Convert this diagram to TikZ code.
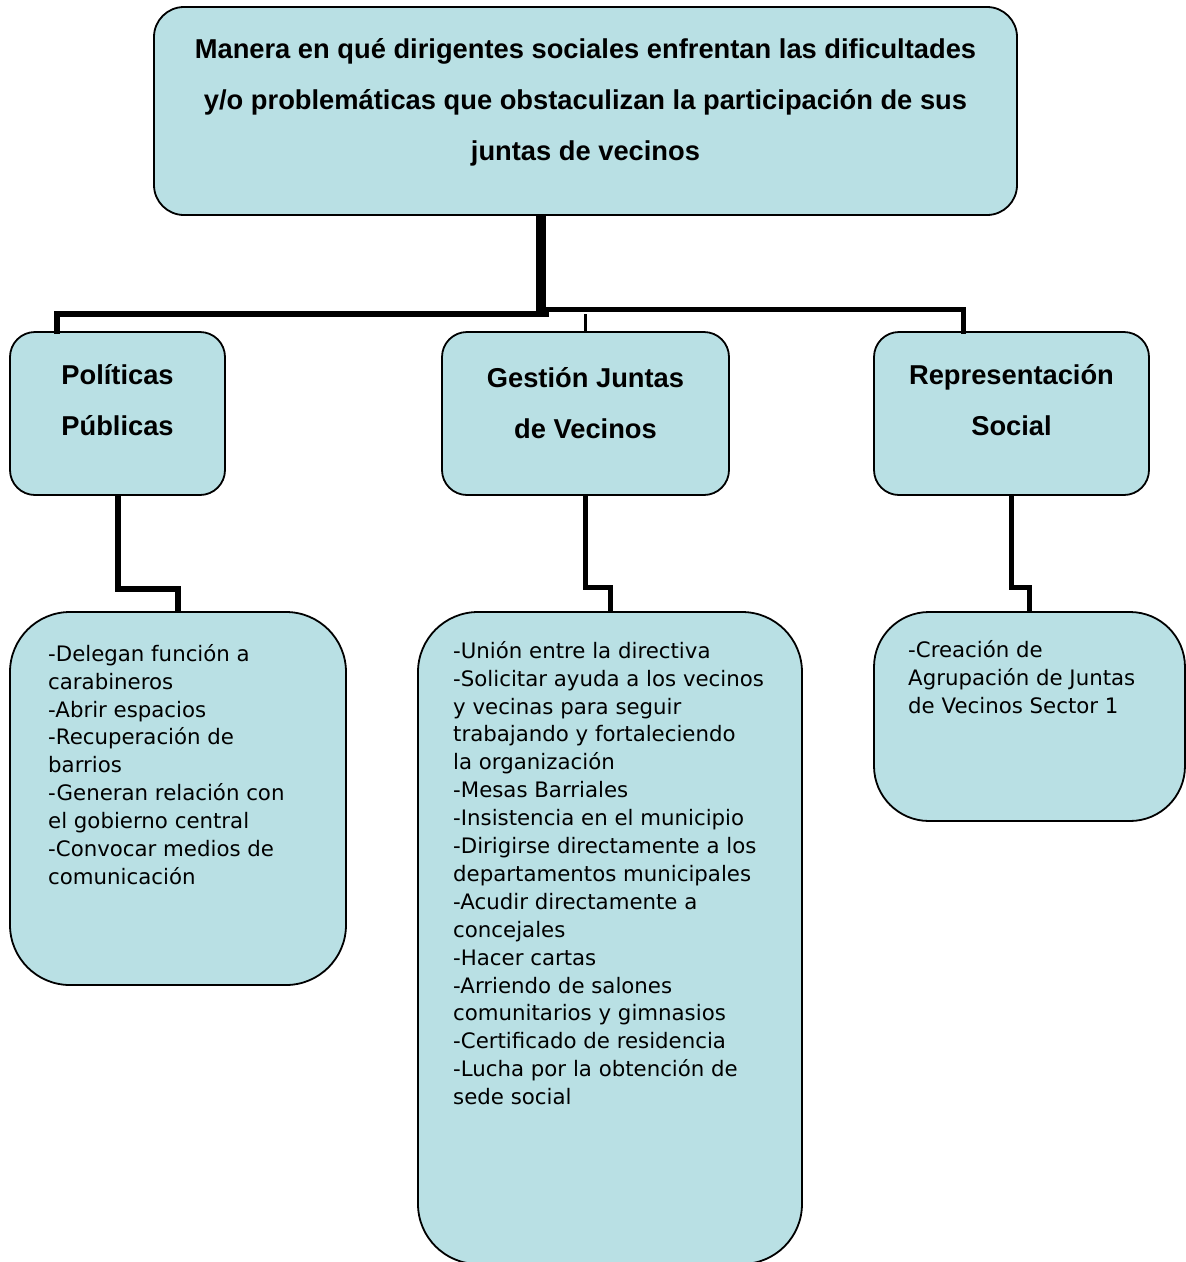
\documentclass[tikz,border=0pt]{standalone}
\usepackage{fontspec}
\setmainfont{Liberation Sans}
\newfontfamily\bodyfont{DejaVu Sans}
\definecolor{boxfill}{RGB}{185,224,228}
\begin{document}
\begin{tikzpicture}[x=1pt,y=-1pt,
  box/.style={draw=black, line width=1.8pt, fill=boxfill, rounded corners=#1, inner sep=0pt},
  box/.default=25pt,
  head/.style={align=center, inner sep=0pt, font=\bfseries\fontsize{27.3}{51}\selectfont},
  body/.style={align=left, anchor=north west, inner sep=0pt, font=\bodyfont\fontsize{21.3}{27.9}\selectfont},
  conn/.style={line width=#1, line join=miter, line cap=rect},
]
\useasboundingbox (0,0) rectangle (1186,1262);
\clip (0,0) rectangle (1186,1262);

% top box
\node[box=30pt, minimum width=863, minimum height=208] (top) at (585.5,111) {};
\node[head] (toptxt) at (585.5,102.5) {Manera en qué dirigentes sociales enfrentan las dificultades\\y/o problemáticas que obstaculizan la participación de sus\\juntas de vecinos};

% level 2
\node[box=25pt, minimum width=215, minimum height=163] (pp) at (117.5,413.5) {};
\node[box=25pt, minimum width=287, minimum height=163] (gj) at (585.5,413.5) {};
\node[box=25pt, minimum width=275, minimum height=163] (rs) at (1011.5,413.5) {};
\node[head] (pptxt) at (117.5,400.5) {Políticas\\Públicas};
\node[head] (gjtxt) at (585.5,403) {Gestión Juntas\\de Vecinos};
\node[head] (rstxt) at (1011.5,400) {Representación\\Social};

% level 3
\node[box=60pt, minimum width=336, minimum height=373] (la) at (178,798.5) {};
\node[box=60pt, minimum width=384, minimum height=652] (lb) at (610,938) {};
\node[box=55pt, minimum width=311, minimum height=209] (lc) at (1029.5,716.5) {};

\node[body] (latxt) at (48,644) {-Delegan función a\\carabineros\\-Abrir espacios\\-Recuperación de\\barrios\\-Generan relación con\\el gobierno central\\-Convocar medios de\\comunicación};
\node[body] (lbtxt) at (453,641) {-Unión entre la directiva\\-Solicitar ayuda a los vecinos\\y vecinas para seguir\\trabajando y fortaleciendo\\la organización\\-Mesas Barriales\\-Insistencia en el municipio\\-Dirigirse directamente a los\\departamentos municipales\\-Acudir directamente a\\concejales\\-Hacer cartas\\-Arriendo de salones\\comunitarios y gimnasios\\-Certificado de residencia\\-Lucha por la obtención de\\sede social};
\node[body] (lctxt) at (908,640) {-Creación de\\Agrupación de Juntas\\de Vecinos Sector 1};

% connectors top
\coordinate (jL) at (546,314);
\coordinate (jR) at (540,309);
\draw[conn=10pt, line cap=butt] ([xshift=-44.5pt]top.south) -- ++(0,101);
\draw[conn=6pt] ([xshift=-60.5pt]pp.north) |- (jL);
\draw[conn=5pt] ([xshift=-48.5pt]rs.north) |- (jR);
\draw[conn=3.5pt, line cap=butt] (gj.north) -- ++(0,-17);

% connectors lower
\draw[conn=6pt, line cap=butt] (pp.south) -- ++(0,93) -| (la.north);
\draw[conn=5pt, line cap=butt] (gj.south) -- ++(0,92) -| (lb.north);
\draw[conn=5pt, line cap=butt] (rs.south) -- ++(0,92) -| (lc.north);
\end{tikzpicture}
\end{document}
